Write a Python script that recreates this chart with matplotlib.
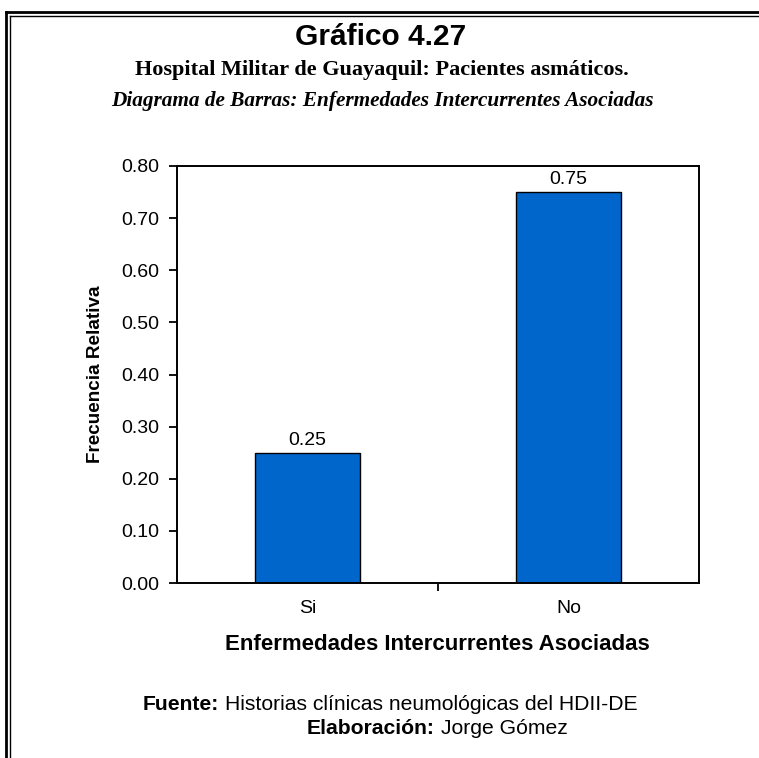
import matplotlib.pyplot as plt
from matplotlib.lines import Line2D

# Datos
categorias = ['Si', 'No']
frecuencia = [0.25, 0.75]
yticks = [0.0, 0.1, 0.2, 0.3, 0.4, 0.5, 0.6, 0.7, 0.8]

W, H = 759, 758
fig = plt.figure(figsize=(W / 100, H / 100), dpi=100)
fig.patch.set_facecolor('white')

sans = 'Liberation Sans'
serif = 'Liberation Serif'


def px(x, y):
    return x / W, 1 - y / H


# marco doble (izquierda y arriba)
for xoff, yoff, lw in [(6, 12, 2.0), (9.5, 15.5, 1.0)]:
    fig.add_artist(Line2D([xoff / W, xoff / W], [0, 1 - yoff / H], color='black', lw=lw,
                          transform=fig.transFigure, solid_capstyle='projecting'))
    fig.add_artist(Line2D([xoff / W, 1], [1 - yoff / H, 1 - yoff / H], color='black', lw=lw,
                          transform=fig.transFigure, solid_capstyle='projecting'))

# titulos
fig.text(*px(381, 37), 'Gráfico 4.27', ha='center', va='center',
         fontfamily=sans, fontweight='bold', fontsize=21.5)
fig.text(*px(382, 70), 'Hospital Militar de Guayaquil: Pacientes asmáticos.', ha='center', va='center',
         fontfamily=serif, fontweight='bold', fontsize=16)
fig.text(*px(382, 101), 'Diagrama de Barras: Enfermedades Intercurrentes Asociadas', ha='center', va='center',
         fontfamily=serif, fontweight='bold', fontstyle='italic', fontsize=15.3)

ax = fig.add_axes([177 / W, 1 - 583 / H, (699 - 177) / W, (583 - 166) / H])
x = range(len(categorias))
bars = ax.bar(x, frecuencia, width=0.4, color='#0066CC', edgecolor='black', linewidth=1.0)
for b, v in zip(bars, frecuencia):
    ax.text(b.get_x() + b.get_width() / 2, v + 0.007, f'{v:.2f}', ha='center', va='bottom',
            fontfamily=sans, fontsize=14)

ax.set_xlim(-0.5, 1.5)
ax.set_ylim(0, 0.8)
ax.set_yticks(yticks)
ax.set_yticklabels([f'{t:.2f}' for t in yticks], fontfamily=sans, fontsize=14)
ax.set_xticks([0.5], minor=True)
ax.set_xticks(list(x))
ax.set_xticklabels(categorias, fontfamily=sans, fontsize=14)
ax.tick_params(axis='x', which='major', length=0, pad=12)
ax.tick_params(axis='x', which='minor', length=6, width=1.3, direction='out')
ax.tick_params(axis='y', length=6, width=1.3, direction='out', pad=7)
for s in ax.spines.values():
    s.set_linewidth(1.4)

ax.set_ylabel('Frecuencia Relativa', fontfamily=sans, fontweight='bold', fontsize=13.6, labelpad=12)

fig.text(*px(437, 645), 'Enfermedades Intercurrentes Asociadas', ha='center', va='center',
         fontfamily=sans, fontweight='bold', fontsize=16)

# pie: fuente y elaboración (parte en negrita seguida de texto normal)
renderer = fig.canvas.get_renderer()


def pie(xp, yp, negrita, normal, size=15.2):
    t = fig.text(*px(xp, yp), negrita, ha='left', va='center', fontfamily=sans,
                 fontweight='bold', fontsize=size)
    ext = t.get_window_extent(renderer)
    fig.text(*px(xp + ext.width + 6, yp), normal, ha='left', va='center',
             fontfamily=sans, fontsize=size)


pie(143, 705, 'Fuente:', 'Historias clínicas neumológicas del HDII-DE')
pie(307, 728, 'Elaboración:', 'Jorge Gómez')

fig.savefig('out.png', dpi=100)
